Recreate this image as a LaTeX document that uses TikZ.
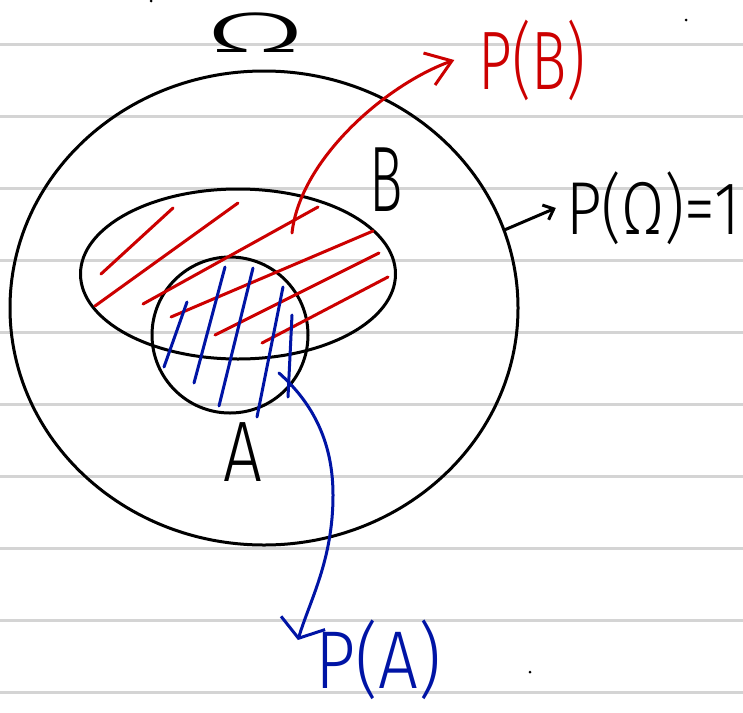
\documentclass[tikz,border=0pt]{standalone}
\usepackage{fontspec}
\usepackage{graphicx}
\usetikzlibrary{shapes.geometric,arrows.meta}
\newfontfamily\hand{Fira Sans Light}
\definecolor{penred}{RGB}{204,0,0}
\definecolor{penblue}{RGB}{0,20,165}
\definecolor{rulegray}{RGB}{212,212,212}

\begin{document}
\begin{tikzpicture}[x=1pt, y=-1pt, line cap=round, line join=round,
  set/.style={draw, line width=3pt, inner sep=0pt},
  pen/.style={line width=3pt},
  rule/.style={draw=rulegray, line width=3pt},
  word/.style={inner sep=0pt, font=\hand}]
\fill[white] (0,0) rectangle (743,712);
\useasboundingbox (0,0) rectangle (743,712);
% ruled paper
\foreach \y in {44,116,...,692}
  \draw[rule] (0,\y) -- (743,\y);
\fill (151,1) circle (1.5pt);
\fill (686,20) circle (1.5pt);
\fill (530,672) circle (1.5pt);

% sets
\node[set, ellipse, minimum width=508pt, minimum height=474pt] (omega) at (264,308) {};
\node[set, ellipse, minimum width=315pt, minimum height=170pt] (setB) at (238,274) {};
\node[set, circle, minimum size=156pt] (setA) at (230,335) {};

% hatching
\foreach \xa/\ya/\xb/\yb in {101/274/173/208, 95/306/238/203, 143/304/318/207,
    171/317/373/231, 215/335/379/253, 262/343/388/277}
  \draw[pen, penred] (\xa,\ya) -- (\xb,\yb);
\foreach \xa/\ya/\xb/\yb in {187/302/164/367, 225/267/194/383, 253/268/219/406,
    283/287/257/417, 292/315/288/397}
  \draw[pen, penblue] (\xa,\ya) -- (\xb,\yb);

% labels
\node[word] (lblOmega) at (256,33) {\scalebox{2.6}[1]{\fontsize{57}{57}\selectfont Ω}};
\node[word] (lblB) at (386,180) {\scalebox{0.6}[1]{\fontsize{93}{93}\selectfont B}};
\node[word] (lblA) at (243,452) {\scalebox{0.8}[1]{\fontsize{86}{86}\selectfont A}};
\node[word, penred] (pB) at (532,60) {\scalebox{0.71}[1]{\fontsize{83}{83}\selectfont P(B)}};
\node[word] (pOmega) at (653,208) {\scalebox{0.83}[1]{\fontsize{75}{75}\selectfont P(Ω)=1}};
\node[word, penblue] (pA) at (378,660) {\scalebox{0.86}[1]{\fontsize{82}{82}\selectfont P(A)}};

% pointers
\coordinate (bStart) at (292,233);
\coordinate (aStart) at (279,373);
\draw[pen, penred, -{Straight Barb[length=24pt,width=34pt]}]
  (bStart) .. controls (300,160) and (385,85) .. ([xshift=-24pt]pB.west);
\draw[pen, penblue, -{Straight Barb[length=16pt,width=46pt]}]
  (aStart) .. controls (315,405) and (333,445) .. (333,495)
  .. controls (333,560) and (310,600) .. ([shift={(-17,-20)}]pA.west);
\draw[pen, -{Straight Barb[length=9pt,width=16pt]}] (omega.18) -- ([xshift=-10pt]pOmega.west);
\end{tikzpicture}
\end{document}
